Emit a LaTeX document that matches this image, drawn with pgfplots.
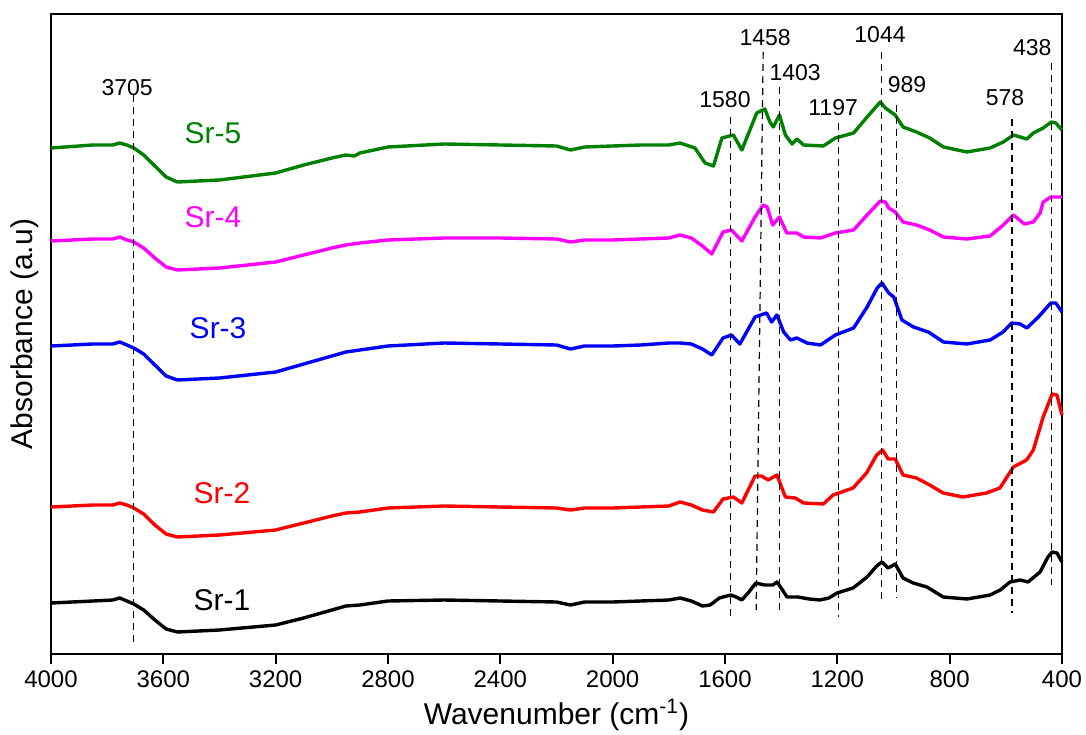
\documentclass[border=0pt]{standalone}
\usepackage{fontspec}
\setmainfont{Liberation Sans}
\usepackage{pgfplots}
\pgfplotsset{compat=1.18}
\usetikzlibrary{calc}
\definecolor{srgreen}{RGB}{0,128,0}
\definecolor{srmagenta}{RGB}{255,0,255}
\definecolor{srblue}{RGB}{0,0,255}
\definecolor{srred}{RGB}{255,0,0}

% spectra, absorbance in arbitrary units (offset per sample)
\pgfplotstableread{
w y
4000 51
3850 53
3780 54
3755 56
3730 53
3705 50
3670 44
3630 34
3590 25
3550 22
3400 24
3200 29
3100 36
3000 44
2950 48
2900 49
2800 53
2600 54
2400 53
2200 52
2150 49
2100 52
2000 52
1900 53
1800 54
1760 56
1720 53
1680 48
1653 49
1620 56
1580 59
1560 57
1540 54
1515 62
1490 71
1460 69
1430 69
1415 72
1400 66
1379 57
1340 57
1300 55
1262 54
1230 56
1201 61
1144 66
1094 77
1060 88
1041 92
1019 86
1000 89
994 90
966 76
930 71
881 67
823 57
738 55
656 59
620 64
585 72
549 74
521 72
478 82
450 97
435 102
418 101
400 92
}\srone

\pgfplotstableread{
w y
4000 147
3850 149
3780 149
3755 151
3730 149
3705 146
3670 140
3630 129
3590 120
3550 117
3400 119
3200 124
3100 131
3000 138
2950 141
2900 142
2800 146
2600 148
2400 147
2200 146
2150 144
2100 146
2000 146
1900 147
1800 148
1760 152
1720 149
1680 144
1641 142
1607 155
1570 157
1540 151
1493 178
1470 178
1446 174
1415 179
1385 157
1350 156
1320 151
1250 150
1215 159
1144 166
1096 181
1060 199
1039 204
1019 195
994 195
966 179
918 176
871 169
823 161
752 157
669 161
621 166
573 187
526 194
502 204
467 237
435 260
418 259
400 239
}\srtwo

\pgfplotstableread{
w y
4000 308
3850 310
3780 310
3755 312
3730 309
3705 306
3670 300
3630 289
3590 278
3550 274
3400 276
3200 282
3100 290
3000 298
2950 302
2900 304
2800 308
2600 311
2400 310
2200 309
2150 305
2100 308
2000 308
1900 309
1800 311
1760 311
1720 310
1680 305
1647 299
1607 316
1577 319
1547 310
1493 337
1452 341
1434 332
1415 339
1391 322
1367 314
1344 316
1308 311
1260 309
1207 319
1142 326
1094 347
1058 366
1041 371
1017 361
999 357
970 334
929 327
876 322
822 312
739 310
656 314
610 322
579 331
549 330
525 326
484 337
440 351
422 351
400 342
}\srthree

\pgfplotstableread{
w y
4000 413
3850 415
3780 415
3755 417
3730 414
3705 412
3670 406
3630 396
3590 387
3550 384
3400 386
3200 392
3100 399
3000 406
2950 409
2900 411
2800 414
2600 416
2400 416
2200 415
2150 412
2100 414
2000 414
1900 415
1800 416
1760 419
1720 416
1680 408
1647 400
1607 422
1577 424
1540 413
1493 437
1464 449
1450 447
1430 429
1406 437
1380 421
1344 421
1320 417
1260 416
1207 421
1142 424
1094 439
1047 453
1029 452
1017 446
994 442
966 432
918 429
871 424
822 417
739 415
656 418
609 429
573 439
534 430
502 432
478 441
467 452
440 457
400 457
}\srfour

\pgfplotstableread{
w y
4000 506
3850 509
3780 509
3755 511
3730 509
3705 506
3670 499
3630 488
3590 477
3550 472
3400 474
3200 481
3100 489
3000 496
2950 499
2920 498
2900 501
2800 507
2600 510
2400 509
2200 508
2150 504
2100 507
2000 508
1900 509
1800 509
1760 511
1707 506
1671 491
1641 488
1611 516
1570 519
1540 504
1487 541
1458 545
1440 532
1428 527
1406 539
1385 519
1361 510
1344 515
1320 509
1250 508
1207 516
1142 521
1094 537
1047 552
1029 546
994 539
966 527
918 522
871 516
822 507
739 502
656 506
609 512
573 519
525 515
502 521
467 526
438 532
422 531
400 524
}\srfive

\begin{document}
\begin{tikzpicture}
\begin{axis}[
  scale only axis, width=505.5pt, height=320pt,
  x dir=reverse, xmin=400, xmax=4000, ymin=0, ymax=640,
  xtick={400,800,...,4000}, ytick=\empty,
  xtick pos=bottom, tick align=outside, major tick length=5pt,
  every tick/.style={black, line width=0.9pt},
  axis line style={line width=1pt},
  /pgf/number format/assume math mode=true,
  /pgf/number format/set thousands separator={},
  xticklabel style={font=\fontsize{12}{13}\selectfont},
  xlabel={Wavenumber (cm\textsuperscript{-1})},
  ylabel={Absorbance (a.u)},
  label style={font=\fontsize{15}{16}\selectfont},
  xlabel style={at={(axis description cs:0.5,-0.095)}, anchor=center},
  ylabel style={at={(axis description cs:-0.0257,0.5)}, anchor=center},
  spectrum/.style={line width=1.7pt, line join=round},
  peak/.style={black, line width=0.6pt, dash pattern=on 3.5pt off 2.5pt},
  clip=false,
]
\addplot[spectrum, black] table[x=w,y=y] {\srone};
\addplot[spectrum, srred] table[x=w,y=y] {\srtwo};
\addplot[spectrum, srblue] table[x=w,y=y] {\srthree};
\addplot[spectrum, srmagenta] table[x=w,y=y] {\srfour};
\addplot[spectrum, srgreen] table[x=w,y=y] {\srfive};

\addplot[peak] coordinates {(3705,559) (3705,9)};
\addplot[peak] coordinates {(1580,537) (1580,36)};
\addplot[peak] coordinates {(1464,602) (1489,44)};
\addplot[peak] coordinates {(1405,567) (1405,41)};
\addplot[peak] coordinates {(1197,531) (1197,37)};
\addplot[peak] coordinates {(1044,602) (1044,54)};
\addplot[peak] coordinates {(989,549) (989,56)};
\addplot[peak] coordinates {(578,535) (578,41)};
\addplot[peak] coordinates {(438,591) (438,69)};

\begin{scope}[every node/.style={font=\fontsize{11.5}{12}\selectfont}]
\node at (axis cs:3729,566) {3705};
\node at (axis cs:1600,554) {1580};
\node at (axis cs:1457,616) {1458};
\node at (axis cs:1350,581) {1403};
\node at (axis cs:1215,546) {1197};
\node at (axis cs:1048,619) {1044};
\node at (axis cs:952,569) {989};
\node at (axis cs:603,556) {578};
\node at (axis cs:506,606) {438};
\end{scope}

\begin{scope}[every node/.style={font=\fontsize{15}{16}\selectfont}]
\node[srgreen] at (axis cs:3423,521) {Sr-5};
\node[srmagenta] at (axis cs:3423,437) {Sr-4};
\node[srblue] at (axis cs:3405,326) {Sr-3};
\node[srred] at (axis cs:3391,161) {Sr-2};
\node[black] at (axis cs:3391,54) {Sr-1};
\end{scope}
\end{axis}
\pgfresetboundingbox
\path[use as bounding box] ($(current axis.south west)+(-25.5pt,-40pt)$) rectangle ($(current axis.north east)+(12pt,7pt)$);
\end{tikzpicture}
\end{document}
